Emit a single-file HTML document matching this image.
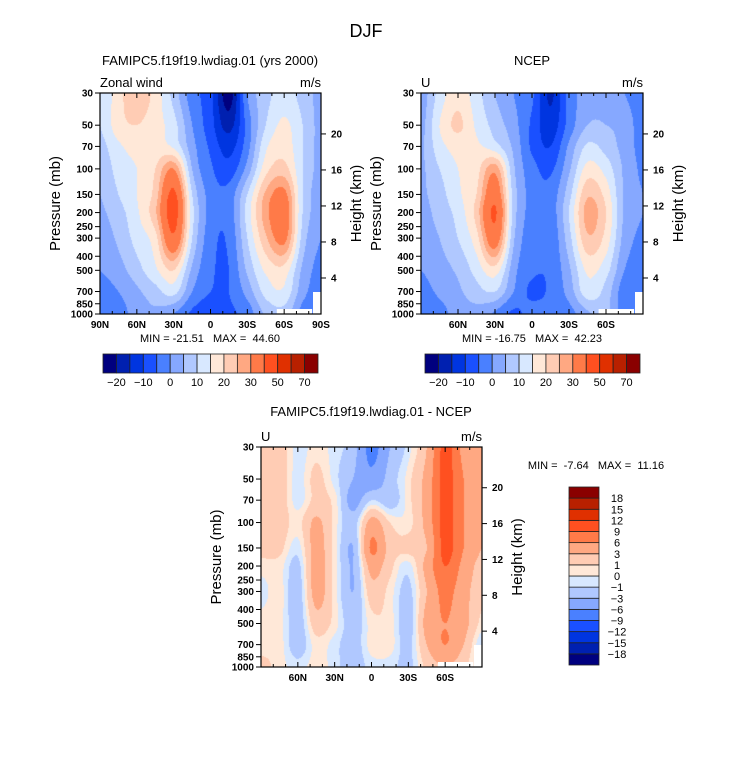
<!DOCTYPE html>
<html><head><meta charset="utf-8">
<style>
body{margin:0;background:#fff;width:733px;height:760px;position:relative;overflow:hidden;font-family:"Liberation Sans",sans-serif}
canvas{position:absolute}
svg{position:absolute;left:0;top:0}
text{font-family:"Liberation Sans",sans-serif;fill:#000}
</style></head><body>
<canvas id="c1" style="left:100px;top:93px" width="221" height="221"></canvas>
<canvas id="c2" style="left:421px;top:93px" width="222" height="221"></canvas>
<canvas id="c3" style="left:261px;top:447px" width="221" height="220"></canvas>
<svg id="s" width="733" height="760">
<text x="366" y="37" font-size="18" text-anchor="middle">DJF</text>
<text x="210" y="65" font-size="13" text-anchor="middle">FAMIPC5.f19f19.lwdiag.01 (yrs 2000)</text>
<text x="532" y="65" font-size="13" text-anchor="middle">NCEP</text>
<text x="371" y="416" font-size="13" text-anchor="middle">FAMIPC5.f19f19.lwdiag.01 - NCEP</text>
<text x="100" y="87" font-size="13">Zonal wind</text>
<text x="321" y="87" font-size="13" text-anchor="end">m/s</text>
<text x="421" y="87" font-size="13">U</text>
<text x="643" y="87" font-size="13" text-anchor="end">m/s</text>
<text x="261" y="441" font-size="13">U</text>
<text x="482" y="441" font-size="13" text-anchor="end">m/s</text>
<text x="210" y="342" font-size="11" text-anchor="middle" xml:space="preserve">MIN = -21.51   MAX =  44.60</text>
<text x="532" y="342" font-size="11" text-anchor="middle" xml:space="preserve">MIN = -16.75   MAX =  42.23</text>
<text x="596" y="469" font-size="11" text-anchor="middle" xml:space="preserve">MIN =  -7.64   MAX =  11.16</text>
</svg>
<script>
const colors=["#00007f","#0020b0","#0035e0","#1a50ff","#4a80ff","#86a8ff","#b0c8ff","#d8e8ff","#ffe8d8","#ffccb4","#ffa882","#ff7a48","#ff5020","#e03000","#b82000","#8a0000"];
const levelsU=[-20,-15,-10,-5,0,5,10,15,20,25,30,40,50,60,70];
const labelsU=["-20","-10","0","10","20","30","50","70"];
const levelsD=[-18,-15,-12,-9,-6,-3,-1,0,1,3,6,9,12,15,18];
const lats=[90,75,60,45,30,15,0,-15,-30,-45,-60,-75,-90];
const levs=[30,50,70,100,150,200,300,500,700,1000];
const modelU=[
[10,18,24,18,8,-3,-8,-23,0,8,12,8,3],
[10,18,20,17,12,0,-8,-17,-3,10,16,10,3],
[8,14,17,17,14,2,-6,-12,-2,14,18,10,3],
[6,12,15,20,30,5,-4,-8,2,18,22,10,3],
[5,10,15,22,42,10,-2,-3,10,26,32,10,2],
[4,8,14,24,44,12,-2,-3,12,28,35,10,2],
[2,6,12,18,38,10,-3,-4,10,24,32,8,0],
[0,3,8,14,20,4,-4,-5,6,16,18,4,-2],
[-2,0,4,8,12,0,-5,-5,2,12,14,2,-3],
[-2,-2,2,4,0,-6,-8,-6,-3,6,8,-2,-4]];
const ncepU=[
[2,12,18,12,5,0,-4,-16,-3,2,3,0,-3],
[3,15,21,14,8,2,-6,-13,-3,5,5,3,-3],
[4,13,17,16,12,4,-6,-10,1,11,8,3,-2],
[4,10,15,18,28,6,-3,-6,4,17,13,4,-1],
[4,8,14,20,36,8,-2,-3,8,24,18,4,0],
[3,7,12,22,41,8,-2,-3,10,27,20,4,0],
[2,5,10,18,35,6,-3,-4,8,24,18,3,-1],
[0,3,6,12,18,2,-4,-4,4,16,12,0,-2],
[-2,1,4,8,10,0,-6,-4,2,13,8,-3,-3],
[-4,-2,2,3,-1,-6,-3,-3,-2,4,6,-3,-5]];
const diffU=[
[1.5,2,-0.5,0.5,-0.5,-2,-7,-3,-0.5,3,10,5,3],
[1.5,2,-0.5,1.5,-0.5,-3,-5,-2,0.5,4,10,6,3],
[1.5,2,-0.5,1.5,0.5,-4,-1,-2,0.5,4,10,6,3],
[1.5,2,0.5,3.5,0.5,-2,4,1,0.5,4,10,6,3],
[1.5,1.5,-0.5,4,0.5,-3,6.5,2,1.5,3,10,6,3],
[0.5,0.5,-1.5,4,0.5,-3,4,1.5,-0.5,4,9,5,2],
[-0.5,0.5,-2,4,0.5,-3,2,0.5,-1.5,3,7,4,1.5],
[0.5,0.5,-2,2,0.5,-2,0.5,0.5,-2,4,6,4,0.5],
[0.5,0.5,-2,0.5,-0.5,-2,0.5,0.5,-1.5,3,6,3,-1],
[1.5,0.5,-0.5,0.5,-0.5,-2,-0.5,-0.5,-1.5,1.5,3,1.5,-1]];

function hex(c){return [parseInt(c.substr(1,2),16),parseInt(c.substr(3,2),16),parseInt(c.substr(5,2),16)];}
const rgb=colors.map(hex);
function colorIndex(v,lv){let i=0;while(i<lv.length&&v>=lv[i])i++;return i;}
const lnLevs=levs.map(p=>Math.log(p));
function cr(p0,p1,p2,p3,t){return 0.5*((2*p1)+(-p0+p2)*t+(2*p0-5*p1+4*p2-p3)*t*t+(-p0+3*p1-3*p2+p3)*t*t*t);}
function sample(field,lat,lnp){
  const nI=lats.length,nJ=levs.length;
  let fi=(90-lat)/15; fi=Math.max(0,Math.min(nI-1.0001,fi));
  let i0=Math.floor(fi),tx=fi-i0;
  let j0=0; while(j0<nJ-2&&lnp>lnLevs[j0+1])j0++;
  let ty=(lnp-lnLevs[j0])/(lnLevs[j0+1]-lnLevs[j0]); ty=Math.max(0,Math.min(1,ty));
  const ci=k=>Math.max(0,Math.min(nI-1,k)),cj=k=>Math.max(0,Math.min(nJ-1,k));
  const rows=[];
  for(let dj=-1;dj<=2;dj++){const row=field[cj(j0+dj)];
    rows.push(cr(row[ci(i0-1)],row[ci(i0)],row[ci(i0+1)],row[ci(i0+2)],tx));}
  return cr(rows[0],rows[1],rows[2],rows[3],ty);
}
function drawField(id,field,lv){
  const cv=document.getElementById(id),ctx=cv.getContext('2d');
  const W=cv.width,H=cv.height,img=ctx.createImageData(W,H);
  const l0=Math.log(30),l1=Math.log(1000);
  for(let py=0;py<H;py++){const lnp=l0+(py+0.5)/H*(l1-l0);
    for(let px=0;px<W;px++){const lat=90-180*(px+0.5)/W;
      const v=sample(field,lat,lnp);const c=rgb[colorIndex(v,lv)];const k=(py*W+px)*4;
      img.data[k]=c[0];img.data[k+1]=c[1];img.data[k+2]=c[2];img.data[k+3]=255;}}
  ctx.putImageData(img,0,0);
}
drawField('c1',modelU,levelsU);
drawField('c2',ncepU,levelsU);
drawField('c3',diffU,levelsD);

const NS="http://www.w3.org/2000/svg",svg=document.getElementById('s');
function el(tag,attrs,txt){const e=document.createElementNS(NS,tag);for(const k in attrs)e.setAttribute(k,attrs[k]);if(txt!==undefined)e.textContent=txt;svg.appendChild(e);return e;}
const pLabels=[30,50,70,100,150,200,250,300,400,500,700,850,1000];
const hLabels=[4,8,12,16,20];
function axes(L,T,W,H,latLabs,prefix){
  const y=p=>T+H*Math.log(p/30)/Math.log(1000/30);
  const x=lat=>L+W*(90-lat)/180;
  let r=el('rect',{x:L+W*0.8,y:T+H-5,width:W*0.16,height:5,fill:'#fff'});
  
  
  r=el('rect',{x:L+W-8,y:T+H-22,width:8,height:22,fill:'#fff'});
  
  
  const f=el('rect',{x:L,y:T,width:W,height:H,fill:'none',stroke:'#000','stroke-width':1.2});
  
  
  pLabels.forEach(p=>{
    const t=el('line',{x1:L-5,x2:L,y1:y(p),y2:y(p),stroke:'#000'});
    
    
    const tx=el('text',{x:L-7,y:y(p)+3.5,'font-size':10,'font-weight':'bold','text-anchor':'end'},String(p));
    
    
  });
  hLabels.forEach(z=>{const p=1000*Math.exp(-z/7);
    const t=el('line',{x1:L+W,x2:L+W+5,y1:y(p),y2:y(p),stroke:'#000'});
    
    
    const tx=el('text',{x:L+W+10,y:y(p)+3.5,'font-size':10,'font-weight':'bold'},String(z));
    
    
  });
  for(let lat=80;lat>=-80;lat-=10){const len=(lat%30===0)?5:3;
    const t1=el('line',{x1:x(lat),x2:x(lat),y1:T+H,y2:T+H-len,stroke:'#000'});
    
    
    const t2=el('line',{x1:x(lat),x2:x(lat),y1:T,y2:T+len,stroke:'#000'});
    
    
  }
  latLabs.forEach(s=>{const v=s==='0'?0:(s.endsWith('N')?1:-1)*parseInt(s);
    const tx=el('text',{x:x(v),y:T+H+14,'font-size':10,'font-weight':'bold','text-anchor':'middle'},s);
    
    
  });
  const a=el('text',{x:0,y:0,'font-size':15,'text-anchor':'middle',transform:`translate(${L-40},${T+H/2}) rotate(-90)`},'Pressure (mb)');
  
  
  const b=el('text',{x:0,y:0,'font-size':15,'text-anchor':'middle',transform:`translate(${L+W+40},${T+H/2}) rotate(-90)`},'Height (km)');
  
  
}
axes(100,93,221,221,["90N","60N","30N","0","30S","60S","90S"],'model');
axes(421,93,222,221,["60N","30N","0","30S","60S"],'ncep');
axes(261,447,221,220,["60N","30N","0","30S","60S"],'diff');

function hbar(L,T,W,H,prefix){const bw=W/16;
  colors.forEach((c,i)=>{const r=el('rect',{x:L+i*bw,y:T,width:bw,height:H,fill:c,stroke:'#222','stroke-width':0.8});
    
    });
  labelsU.forEach((s,k)=>{const t=el('text',{x:L+(1+2*k)*bw,y:T+H+13,'font-size':11,'text-anchor':'middle'},s.replace('-','\u2212'));
    
    });
}
hbar(103,354,215,19,'model');
hbar(425,354,215,19,'ncep');
(function(){const L=569,T=487,W=30,H=178,bh=H/16;
  colors.forEach((c,i)=>{const r=el('rect',{x:L,y:T+(15-i)*bh,width:W,height:bh,fill:c,stroke:'#222','stroke-width':0.8});
    
    });
  levelsD.forEach((v,k)=>{const t=el('text',{x:L+W+18,y:T+(15-k)*bh+4,'font-size':11,'text-anchor':'middle'},String(v).replace('-','\u2212'));
    
    });
})();
</script>
</body></html>
